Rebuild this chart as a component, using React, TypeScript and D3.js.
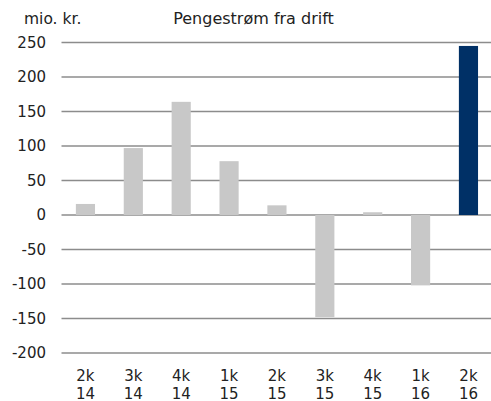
import React from "react";
import * as d3 from "d3";

const categories = ["2k|14", "3k|14", "4k|14", "1k|15", "2k|15", "3k|15", "4k|15", "1k|16", "2k|16"];
const values = [16, 97, 164, 78, 14, -148, 4, -102, 245];
const yTicks = [-200, -150, -100, -50, 0, 50, 100, 150, 200, 250];

const W = 491;
const H = 401;
const FONT = "'DejaVu Sans', Verdana, sans-serif";

export default function App() {
  const x = d3.scaleBand<string>().domain(categories).range([61.5, 492.4]).paddingInner(0.6).paddingOuter(0.3);
  const y = d3.scaleLinear().domain([-200, 250]).range([353, 42.5]);
  const last = categories.length - 1;
  return (
    <svg width={W} height={H} style={{ position: "absolute", left: 0, top: 0, background: "#fff" }} fontFamily={FONT}>
      <text x={24} y={24} fontSize={15.5} fill="#222">mio. kr.</text>
      <text x={253.5} y={24} fontSize={16} fill="#222" textAnchor="middle">Pengestrøm fra drift</text>
      {yTicks.map((t) => (
        <g key={t}>
          <line x1={61.5} x2={W} y1={y(t)} y2={y(t)} stroke="#8c8c8c" strokeWidth={1.5} />
          <text x={46} y={y(t)} dy="0.36em" fontSize={15} fill="#222" textAnchor="end">{t}</text>
        </g>
      ))}
      {categories.map((c, i) => {
        const v = values[i];
        return (
          <rect key={c} x={x(c)} width={x.bandwidth()} y={y(Math.max(0, v))} height={Math.abs(y(v) - y(0))}
            fill={i === last ? "#003066" : "#c8c8c8"} />
        );
      })}
      {categories.map((c) => {
        const [a, b] = c.split("|");
        const cx = (x(c) as number) + x.bandwidth() / 2;
        return (
          <text key={c} x={cx} fontSize={15} fill="#222" textAnchor="middle">
            <tspan x={cx} y={381}>{a}</tspan>
            <tspan x={cx} y={398.5}>{b}</tspan>
          </text>
        );
      })}
    </svg>
  );
}
